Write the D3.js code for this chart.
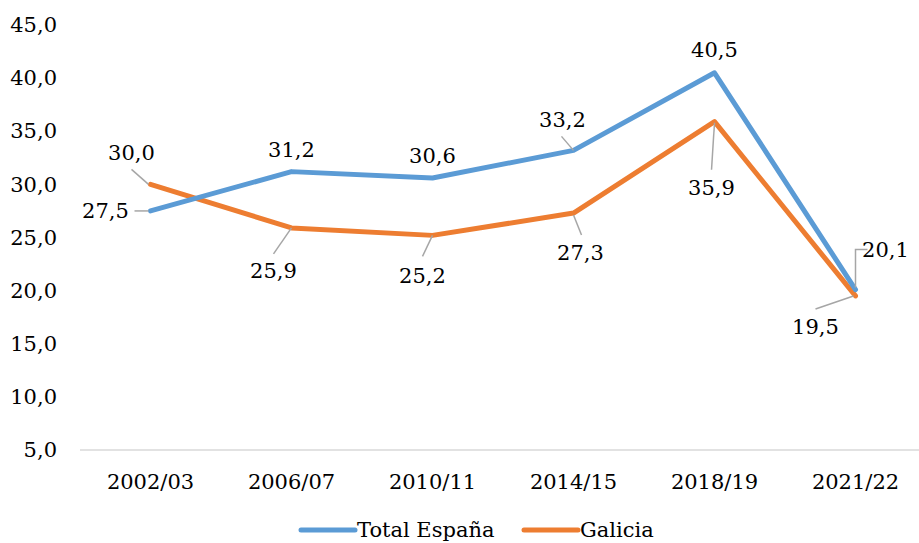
<!DOCTYPE html>
<meta charset="utf-8">
<style>
body {
  margin: 0;
  background: #fff;
}

text {
  font-family: 'DejaVu Serif', serif;
  font-size: 21px;
  fill: #000;
}

.axis path,
.axis line {
  stroke: none;
}

.base-line {
  stroke: #D9D9D9;
  stroke-width: 1.5px;
}

.data-line {
  fill: none;
  stroke-width: 5px;
  stroke-linejoin: round;
  stroke-linecap: round;
}

.leader {
  fill: none;
  stroke: #A6A6A6;
  stroke-width: 1.5px;
}
</style>
<body>
<svg width="919" height="543"></svg>
<script src="https://d3js.org/d3.v7.min.js"></script>
<script>
var years = ["2002/03", "2006/07", "2010/11", "2014/15", "2018/19", "2021/22"];
var totalEspana = [27.5, 31.2, 30.6, 33.2, 40.5, 20.1];
var galicia = [30.0, 25.9, 25.2, 27.3, 35.9, 19.5];
var yTicks = [5, 10, 15, 20, 25, 30, 35, 40, 45];
var seriesNames = ["Total España", "Galicia"];
var seriesColors = ["#5B9BD5", "#ED7D31"];

// label placement: text offset from the point, and leader line ends (relative)
var totalLabels = [
  {dx: -45, dy: 0, leader: [[-16, 0], [-2, 0]]},
  {dx: 0, dy: -22},
  {dx: 0, dy: -22},
  {dx: -11, dy: -31, leader: [[-12, -14], [0, 0]]},
  {dx: 0, dy: -23},
  {dx: 30, dy: -40, leader: [[12, -40], [0, -40], [0, -2]]}
];
var galiciaLabels = [
  {dx: -19, dy: -32, leader: [[-19, -15], [-2, 0]]},
  {dx: -18, dy: 43, leader: [[-18, 26], [0, 0]]},
  {dx: -10, dy: 40, leader: [[-10, 21], [0, 0]]},
  {dx: 7, dy: 40, leader: [[8, 22], [0, 2]]},
  {dx: -3, dy: 66, leader: [[-3, 48], [0, 1]]},
  {dx: -40, dy: 31, leader: [[-40, 13], [-2, 0]]}
];

var svg = d3.select("svg");
var fmt = function(v) { return d3.format(".1f")(v).replace(".", ","); };

var x = d3.scaleBand().domain(years).range([80, 926]);
var y = d3.scaleLinear().domain([5, 45]).range([450, 25]);
var cx = function(d) { return x(d) + x.bandwidth() / 2; };

// y axis labels
svg.append("g")
    .attr("class", "axis")
    .attr("transform", "translate(70,0)")
    .call(d3.axisLeft(y).tickValues(yTicks).tickSize(0).tickPadding(13).tickFormat(fmt));

// bottom line
svg.append("line")
    .attr("class", "base-line")
    .attr("x1", 80).attr("x2", 919)
    .attr("y1", y(5)).attr("y2", y(5));

// x axis labels
svg.append("g")
    .attr("class", "axis")
    .attr("transform", "translate(0," + y(5) + ")")
    .call(d3.axisBottom(x).tickSize(0).tickPadding(24));
svg.selectAll(".axis").attr("font-family", null).attr("font-size", null);

var line = d3.line()
    .x(function(d, i) { return cx(years[i]); })
    .y(function(d) { return y(d); });

var series = [totalEspana, galicia];
var labelSets = [totalLabels, galiciaLabels];

// orange first so blue sits on top at the crossing
[1, 0].forEach(function(s) {
  svg.append("path")
      .datum(series[s])
      .attr("class", "data-line")
      .attr("stroke", seriesColors[s])
      .attr("d", line);
});

series.forEach(function(vals, s) {
  var g = svg.append("g");
  vals.forEach(function(v, i) {
    var px = cx(years[i]), py = y(v), lab = labelSets[s][i];
    if (lab.leader) {
      g.append("path")
          .attr("class", "leader")
          .attr("d", d3.line()(lab.leader.map(function(p) { return [px + p[0], py + p[1]]; })));
    }
    g.append("text")
        .attr("x", px + lab.dx)
        .attr("y", py + lab.dy)
        .attr("dy", "0.35em")
        .attr("text-anchor", "middle")
        .text(fmt(v));
  });
});

// legend
var legend = svg.append("g").attr("transform", "translate(0,530)");
var legendX = [301, 524];
seriesNames.forEach(function(name, i) {
  legend.append("line")
      .attr("x1", legendX[i]).attr("x2", legendX[i] + 54)
      .attr("stroke", seriesColors[i])
      .attr("stroke-width", 5)
      .attr("stroke-linecap", "round");
  legend.append("text")
      .attr("x", legendX[i] + 56)
      .attr("dy", "0.35em")
      .text(name);
});
</script>
